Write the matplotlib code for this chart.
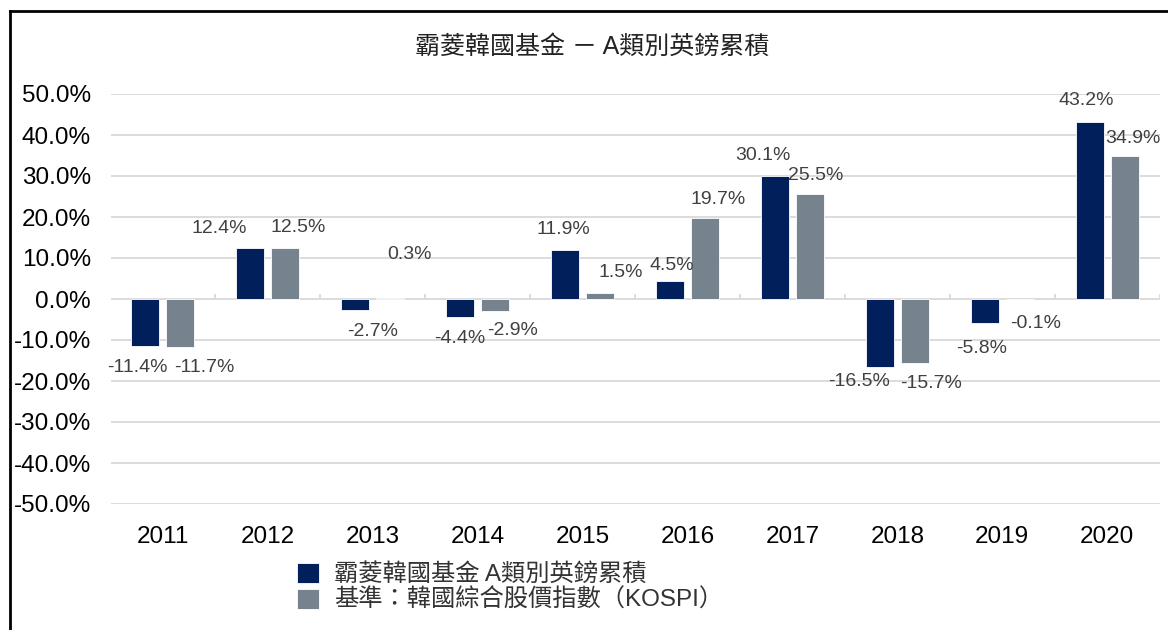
import matplotlib.pyplot as plt
import numpy as np

plt.rcParams['font.family'] = ['Liberation Sans', 'Noto Sans CJK TC', 'DejaVu Sans']

years = ['2011', '2012', '2013', '2014', '2015', '2016', '2017', '2018', '2019', '2020']
fund = [-11.4, 12.4, -2.7, -4.4, 11.9, 4.5, 30.1, -16.5, -5.8, 43.2]
kospi = [-11.7, 12.5, 0.3, -2.9, 1.5, 19.7, 25.5, -15.7, -0.1, 34.9]
fund_name = '霸菱韓國基金 A類別英鎊累積'
kospi_name = '基準：韓國綜合股價指數（KOSPI）'
title = '霸菱韓國基金 － A類別英鎊累積'

# label nudges in pixels (the original labels were dragged around a bit)
fund_dx = [-8, -31, 17, 0, -2, 2, -12, -21, -3, -3]
fund_dy = [22, 20, 21, 21, 21, 15, 20, 15, 26, 21]
kospi_dx = [24, 13, 19, 17, 21, 13, 6, 16, 16, 8]
kospi_dy = [21, 20, 43, 20, 20, 19, 19, 20, 24, 17]

navy = '#001F5B'
grey = '#76838F'

fig = plt.figure(figsize=(11.68, 6.3), dpi=100)
ax = fig.add_axes([110.5 / 1168, 126 / 630, 1049 / 1168, 410 / 630])

x = np.arange(len(years))
w = 0.267
off = 0.167
b1 = ax.bar(x - off, fund, w, color=navy, edgecolor='white', linewidth=0.6, zorder=3, label=fund_name)
b2 = ax.bar(x + off, kospi, w, color=grey, edgecolor='white', linewidth=0.6, zorder=3, label=kospi_name)

for i in range(len(years)):
    for val, xi, dx, dy in [(fund[i], x[i] - off, fund_dx[i], fund_dy[i]),
                            (kospi[i], x[i] + off, kospi_dx[i], kospi_dy[i])]:
        sign = 1 if val >= 0 else -1
        ax.annotate(f'{val:.1f}%', (xi, val), xytext=(dx, sign * dy),
                    textcoords='offset pixels', ha='center', va='center',
                    fontsize=14, color='#404040')

ax.set_xlim(-0.5, len(years) - 0.5)
ax.set_ylim(-50, 50)
ax.set_yticks(np.arange(-50, 51, 10))
ax.set_yticklabels([f'{v:.1f}%' for v in np.arange(-50, 51, 10)])
ax.set_xticks(x)
ax.set_xticklabels(years)
ax.tick_params(axis='both', length=0, labelsize=17.5, colors='black')
ax.tick_params(axis='y', pad=14)
ax.tick_params(axis='x', pad=16)
for s in ax.spines.values():
    s.set_visible(False)
ax.grid(axis='y', color='#D9D9D9', linewidth=1.3, zorder=0)
ax.set_axisbelow(True)
ax.vlines(np.arange(-0.5, len(years)), 0, 1.2, color='#D9D9D9', linewidth=1.3, zorder=1)

fig.text(0.507, 1 - 47 / 630, title, ha='center', va='center', fontsize=18, color='#222222')

fig.legend(handles=[b1, b2], loc='upper left', bbox_to_anchor=(287 / 1168, 1 - 553 / 630),
           frameon=False, fontsize=17.5, handlelength=0.9, handleheight=0.9,
           handletextpad=0.65, labelspacing=0.1, borderaxespad=0, labelcolor='#333333')

# outer frame (top and left edges)
fig.add_artist(plt.Line2D([9.5 / 1168, 1], [1 - 11 / 630, 1 - 11 / 630], color='black', lw=2))
fig.add_artist(plt.Line2D([9.5 / 1168, 9.5 / 1168], [0, 1 - 11 / 630], color='black', lw=2))

fig.savefig('out.png', dpi=100)
